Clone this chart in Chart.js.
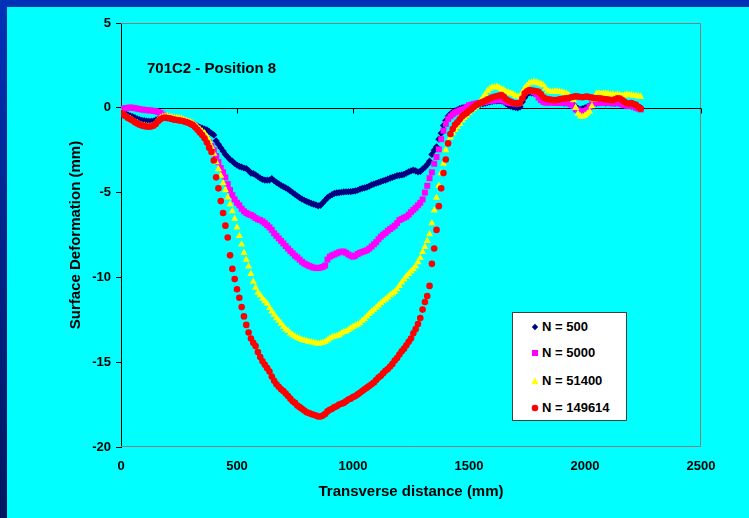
<!DOCTYPE html>
<html><head><meta charset="utf-8">
<script src="https://cdn.jsdelivr.net/npm/chart.js@4.4.1/dist/chart.umd.min.js"></script>
<style>
html,body{margin:0;padding:0;background:#00ffff;}
#wrap{position:relative;width:749px;height:518px;overflow:hidden;background:linear-gradient(to bottom,#0032b8 0%,#00248a 45%,#001860 100%);font-family:"Liberation Sans",Arial,sans-serif;color:#000;}
#inner{position:absolute;left:7px;top:7px;right:0;bottom:0;background:#00ffff;}
canvas{position:absolute;left:0;top:0;}
#title{position:absolute;left:147px;top:59px;font-weight:bold;font-size:15px;line-height:18px;white-space:nowrap;}
#legend{position:absolute;left:512px;top:312px;width:113px;height:107px;background:#fff;border:1px solid #404040;}
.item{position:absolute;left:0;width:113px;height:16px;font-weight:bold;font-size:13px;line-height:16px;white-space:nowrap;}
.item svg{position:absolute;left:18px;top:4px;}
.item span{position:absolute;left:29px;top:0;}
</style></head>
<body>
<div id="wrap">
<div id="inner"></div>
<canvas id="c" width="749" height="518"></canvas>
<div id="title">701C2 - Position 8</div>
<div id="legend"></div>
</div>
<script>
const seriesNames = ['N = 500', 'N = 5000', 'N = 51400', 'N = 149614'];
const xTicks = [0, 500, 1000, 1500, 2000, 2500];
const yTicks = [5, 0, -5, -10, -15, -20];

const distance = [
0,10,20,30,40,50,60,70,80,90,
100,110,120,130,140,150,160,170,180,190,
200,210,220,230,240,250,260,270,280,290,
300,310,320,330,340,350,360,370,380,390,
400,410,420,430,440,450,460,470,480,490,
500,510,520,530,540,550,560,570,580,590,
600,610,620,630,640,650,660,670,680,690,
700,710,720,730,740,750,760,770,780,790,
800,810,820,830,840,850,860,870,880,890,
900,910,920,930,940,950,960,970,980,990,
1000,1010,1020,1030,1040,1050,1060,1070,1080,1090,
1100,1110,1120,1130,1140,1150,1160,1170,1180,1190,
1200,1210,1220,1230,1240,1250,1260,1270,1280,1290,
1300,1310,1320,1330,1340,1350,1360,1370,1380,1390,
1400,1410,1420,1430,1440,1450,1460,1470,1480,1490,
1500,1510,1520,1530,1540,1550,1560,1570,1580,1590,
1600,1610,1620,1630,1640,1650,1660,1670,1680,1690,
1700,1710,1720,1730,1740,1750,1760,1770,1780,1790,
1800,1810,1820,1830,1840,1850,1860,1870,1880,1890,
1900,1910,1920,1930,1940,1950,1960,1970,1980,1990,
2000,2010,2020,2030,2040,2050,2060,2070,2080,2090,
2100,2110,2120,2130,2140,2150,2160,2170,2180,2190,
2200,2210,2220,2230,2240];

const n500 = [
-0.20,-0.28,-0.35,-0.42,-0.48,-0.52,-0.58,-0.65,-0.70,-0.74,
-0.76,-0.78,-0.80,-0.80,-0.78,-0.72,-0.65,-0.60,-0.58,-0.58,
-0.60,-0.62,-0.64,-0.66,-0.68,-0.70,-0.72,-0.76,-0.80,-0.85,
-0.90,-0.95,-1.02,-1.08,-1.15,-1.20,-1.25,-1.30,-1.40,-1.50,
-1.60,-1.95,-2.15,-2.35,-2.55,-2.75,-2.90,-3.05,-3.15,-3.28,
-3.38,-3.45,-3.50,-3.55,-3.58,-3.70,-3.85,-3.88,-3.95,-4.05,
-4.15,-4.22,-4.26,-4.27,-4.26,-4.18,-4.30,-4.40,-4.48,-4.58,
-4.65,-4.72,-4.80,-4.90,-5.00,-5.10,-5.20,-5.30,-5.38,-5.45,
-5.52,-5.58,-5.63,-5.68,-5.72,-5.78,-5.75,-5.60,-5.45,-5.30,
-5.20,-5.12,-5.05,-5.02,-5.00,-4.98,-4.96,-4.95,-4.95,-4.94,
-4.92,-4.90,-4.86,-4.80,-4.75,-4.72,-4.68,-4.62,-4.55,-4.50,
-4.45,-4.40,-4.35,-4.30,-4.26,-4.20,-4.15,-4.10,-4.05,-4.00,
-3.98,-3.96,-3.92,-3.85,-3.78,-3.72,-3.67,-3.72,-3.78,-3.75,
-3.62,-3.50,-3.35,-3.15,-2.75,-2.50,-2.30,-1.85,-1.50,-1.05,
-0.75,-0.50,-0.35,-0.25,-0.18,-0.12,-0.05,0.00,0.02,0.05,
0.08,0.12,0.15,0.18,0.20,0.22,0.25,0.28,0.32,0.35,
0.38,0.40,0.40,0.42,0.40,0.35,0.25,0.15,0.10,0.05,
0.02,0.00,0.05,0.35,0.60,0.80,0.90,0.88,0.86,0.85,
0.70,0.50,0.42,0.38,0.35,0.35,0.33,0.32,0.30,0.30,
0.30,0.28,0.30,0.28,0.25,0.20,0.05,-0.05,-0.10,-0.05,
0.00,0.05,0.12,0.20,0.25,0.28,0.30,0.30,0.30,0.28,
0.30,0.32,0.30,0.28,0.30,0.28,0.22,0.18,0.15,0.12,
0.10,0.08,0.05,0.02,0.00];

const n5000 = [
-0.10,-0.05,-0.02,0.00,0.02,0.00,-0.02,-0.05,-0.08,-0.10,
-0.12,-0.14,-0.15,-0.16,-0.18,-0.20,-0.25,-0.30,-0.40,-0.48,
-0.52,-0.55,-0.58,-0.60,-0.62,-0.65,-0.68,-0.72,-0.78,-0.85,
-0.90,-0.98,-1.08,-1.20,-1.35,-1.50,-1.65,-1.85,-2.05,-2.25,
-2.50,-2.85,-3.20,-3.55,-3.80,-4.10,-4.50,-4.85,-5.15,-5.40,
-5.60,-5.75,-5.95,-6.10,-6.20,-6.28,-6.32,-6.40,-6.50,-6.58,
-6.62,-6.70,-6.80,-6.92,-7.05,-7.20,-7.40,-7.55,-7.70,-7.85,
-8.00,-8.15,-8.30,-8.45,-8.58,-8.72,-8.82,-8.95,-9.08,-9.18,
-9.25,-9.32,-9.37,-9.42,-9.45,-9.45,-9.42,-9.38,-9.30,-8.95,
-8.78,-8.70,-8.65,-8.58,-8.52,-8.48,-8.48,-8.55,-8.65,-8.72,
-8.78,-8.72,-8.62,-8.55,-8.50,-8.45,-8.40,-8.30,-8.18,-8.05,
-7.92,-7.75,-7.60,-7.48,-7.38,-7.25,-7.15,-7.05,-6.95,-6.80,
-6.62,-6.55,-6.48,-6.42,-6.30,-6.15,-6.02,-5.90,-5.75,-5.60,
-5.40,-5.00,-4.60,-4.15,-3.80,-3.30,-2.90,-2.45,-1.85,-1.35,
-0.95,-0.65,-0.50,-0.38,-0.28,-0.22,-0.15,-0.10,-0.05,0.05,
0.15,0.18,0.22,0.25,0.28,0.30,0.32,0.35,0.38,0.40,
0.42,0.44,0.45,0.46,0.46,0.42,0.35,0.30,0.28,0.26,
0.25,0.25,0.30,0.70,0.95,1.00,1.02,0.98,0.92,0.80,
0.60,0.45,0.35,0.30,0.30,0.32,0.30,0.28,0.30,0.32,
0.30,0.28,0.30,0.25,0.20,0.10,-0.10,-0.15,-0.20,-0.20,
-0.18,-0.10,0.05,0.20,0.28,0.30,0.32,0.30,0.28,0.30,
0.30,0.28,0.25,0.28,0.30,0.25,0.20,0.15,0.12,0.10,
0.12,0.08,0.00,-0.05,-0.10];

const n51400 = [
-0.28,-0.38,-0.48,-0.58,-0.66,-0.74,-0.84,-0.90,-0.98,-1.03,
-1.06,-1.08,-1.10,-1.08,-1.02,-0.90,-0.72,-0.60,-0.52,-0.50,
-0.50,-0.52,-0.55,-0.58,-0.60,-0.62,-0.65,-0.70,-0.75,-0.80,
-0.85,-0.92,-1.02,-1.15,-1.28,-1.40,-1.50,-1.70,-1.95,-2.30,
-2.70,-3.20,-3.62,-4.00,-4.45,-4.85,-5.28,-5.70,-6.10,-6.55,
-7.05,-7.55,-8.05,-8.55,-8.95,-9.35,-9.80,-10.25,-10.60,-10.90,
-11.05,-11.25,-11.40,-11.55,-11.80,-12.00,-12.20,-12.40,-12.55,-12.72,
-12.90,-13.05,-13.15,-13.30,-13.40,-13.48,-13.55,-13.62,-13.68,-13.72,
-13.75,-13.80,-13.82,-13.85,-13.88,-13.90,-13.88,-13.85,-13.80,-13.70,
-13.60,-13.52,-13.48,-13.45,-13.40,-13.30,-13.22,-13.18,-13.10,-13.00,
-12.92,-12.85,-12.78,-12.70,-12.55,-12.45,-12.30,-12.15,-12.02,-11.90,
-11.78,-11.65,-11.52,-11.40,-11.30,-11.18,-11.05,-10.95,-10.85,-10.70,
-10.50,-10.30,-10.12,-9.95,-9.80,-9.65,-9.52,-9.35,-9.10,-8.85,
-8.50,-8.20,-7.85,-7.45,-6.80,-6.05,-5.30,-4.60,-3.85,-3.30,
-2.50,-2.05,-1.75,-1.50,-1.30,-1.12,-0.95,-0.75,-0.60,-0.45,
-0.28,-0.15,-0.05,0.05,0.20,0.40,0.60,0.80,1.00,1.12,
1.20,1.22,1.24,1.18,1.10,1.05,0.95,0.90,0.85,0.80,
0.72,0.68,0.65,0.90,1.15,1.30,1.45,1.50,1.54,1.50,
1.45,1.40,1.34,1.15,1.00,0.95,0.95,0.96,0.95,0.95,
0.92,0.88,0.85,0.75,0.60,0.45,0.00,-0.35,-0.50,-0.52,
-0.45,-0.35,-0.23,0.10,0.50,0.85,0.85,0.82,0.85,0.85,
0.82,0.78,0.80,0.75,0.78,0.75,0.72,0.75,0.78,0.75,
0.75,0.72,0.70,0.68,0.65];

const n149614 = [
-0.30,-0.40,-0.50,-0.60,-0.68,-0.75,-0.85,-0.92,-1.00,-1.05,
-1.08,-1.10,-1.12,-1.10,-1.06,-0.95,-0.80,-0.68,-0.60,-0.58,
-0.60,-0.62,-0.66,-0.70,-0.72,-0.74,-0.76,-0.80,-0.84,-0.88,
-0.95,-1.02,-1.15,-1.30,-1.45,-1.60,-1.80,-2.05,-2.35,-2.60,
-3.10,-4.10,-4.75,-5.50,-6.20,-6.95,-7.65,-8.70,-9.50,-10.10,
-10.70,-11.20,-11.75,-12.30,-12.80,-13.25,-13.60,-13.85,-14.05,-14.40,
-14.70,-14.95,-15.15,-15.35,-15.55,-15.85,-16.10,-16.30,-16.45,-16.60,
-16.70,-16.85,-17.00,-17.15,-17.30,-17.40,-17.55,-17.65,-17.75,-17.85,
-17.95,-18.00,-18.05,-18.10,-18.15,-18.20,-18.20,-18.15,-18.05,-17.90,
-17.80,-17.75,-17.65,-17.60,-17.50,-17.45,-17.40,-17.30,-17.20,-17.15,
-17.05,-17.00,-16.90,-16.80,-16.70,-16.60,-16.50,-16.40,-16.30,-16.20,
-16.05,-15.90,-15.80,-15.65,-15.50,-15.40,-15.25,-15.10,-14.90,-14.75,
-14.55,-14.35,-14.20,-14.00,-13.80,-13.60,-13.30,-13.05,-12.75,-12.40,
-11.90,-11.45,-11.10,-10.50,-9.20,-8.30,-7.20,-5.80,-4.75,-3.85,
-3.05,-2.10,-1.55,-1.25,-1.00,-0.85,-0.68,-0.52,-0.40,-0.30,
-0.18,-0.08,0.05,0.15,0.22,0.30,0.36,0.42,0.48,0.55,
0.60,0.65,0.68,0.72,0.75,0.65,0.50,0.42,0.35,0.30,
0.27,0.25,0.28,0.55,0.85,0.98,1.05,1.02,1.00,0.98,
0.95,0.80,0.62,0.55,0.50,0.48,0.46,0.45,0.46,0.50,
0.52,0.55,0.56,0.58,0.62,0.65,0.68,0.66,0.64,0.62,
0.65,0.66,0.62,0.60,0.58,0.56,0.56,0.55,0.52,0.50,
0.48,0.46,0.45,0.50,0.56,0.55,0.45,0.35,0.27,0.25,
0.28,0.22,0.17,0.05,-0.05];

const seriesValues = [n500, n5000, n51400, n149614];
const seriesColors = ['#000080', '#ff00ff', '#ffff00', '#ff0000'];
const seriesStyles = ['rectRot', 'rect', 'triangle', 'circle'];
const seriesRadius = [3.6, 4.2, 4.2, 3.3];

Chart.defaults.font.family = '"Liberation Sans", Arial, Helvetica, sans-serif';
Chart.defaults.color = '#000';

const datasets = seriesValues.map((vals, k) => ({
  label: seriesNames[k],
  data: vals.map((v, i) => ({x: distance[i], y: v})),
  pointStyle: seriesStyles[k],
  pointRadius: seriesRadius[k],
  pointHoverRadius: seriesRadius[k],
  backgroundColor: seriesColors[k],
  borderColor: seriesColors[k],
  borderWidth: 0,
  showLine: false,
  order: 3 - k
}));

const framePlugin = {
  id: 'frame',
  beforeDatasetsDraw(chart) {
    const {ctx, chartArea: a, scales: {x, y}} = chart;
    ctx.save();
    ctx.lineWidth = 1;
    ctx.strokeStyle = '#808080';
    ctx.beginPath();
    ctx.moveTo(a.left, a.top + 0.5);
    ctx.lineTo(a.right - 0.5, a.top + 0.5);
    ctx.lineTo(a.right - 0.5, a.bottom - 0.5);
    ctx.lineTo(a.left, a.bottom - 0.5);
    ctx.stroke();
    const y0 = Math.round(y.getPixelForValue(0)) + 0.5;
    ctx.strokeStyle = '#000';
    ctx.beginPath();
    ctx.moveTo(a.left, y0);
    ctx.lineTo(a.right, y0);
    xTicks.forEach(t => {
      const px = Math.round(x.getPixelForValue(t)) + 0.5;
      ctx.moveTo(px, y0);
      ctx.lineTo(px, y0 + 5);
    });
    ctx.stroke();
    ctx.restore();
  }
};

new Chart(document.getElementById('c'), {
  type: 'scatter',
  data: {datasets},
  options: {
    responsive: false,
    animation: false,
    events: [],
    layout: {padding: {left: 0, right: 48, top: 23, bottom: 0}},
    plugins: {legend: {display: false}, tooltip: {enabled: false}, title: {display: false}},
    scales: {
      x: {
        type: 'linear', min: 0, max: 2500,
        afterBuildTicks: s => { s.ticks = xTicks.map(v => ({value: v})); },
        afterFit: s => { s.height = 71; },
        grid: {display: false, drawTicks: false},
        border: {display: false},
        ticks: {font: {size: 13, weight: 'bold'}, padding: 12, maxRotation: 0, autoSkip: false,
                callback: v => String(v)},
        title: {display: true, text: 'Transverse distance (mm)', font: {size: 15, weight: 'bold'}, padding: {top: 0, bottom: 17}}
      },
      y: {
        type: 'linear', min: -20, max: 5,
        afterBuildTicks: s => { s.ticks = yTicks.map(v => ({value: v})); },
        afterFit: s => { s.width = 121; },
        grid: {display: true, drawOnChartArea: false, drawTicks: true, tickLength: 5, color: '#000'},
        border: {display: true, color: '#000', width: 1},
        ticks: {font: {size: 13, weight: 'bold'}, padding: 5, autoSkip: false, callback: v => String(v)},
        title: {display: true, text: 'Surface Deformation (mm)', font: {size: 15, weight: 'bold'}, padding: {top: 67, bottom: 0}}
      }
    }
  },
  plugins: [framePlugin]
});

// legend (HTML, real text)
const legendTops = [6, 32, 60, 87];
const markerSvg = [
  '<svg width="8" height="8"><polygon points="4,0.8 7.2,4 4,7.2 0.8,4" fill="#000080"/></svg>',
  '<svg width="8" height="8"><rect x="1" y="1" width="6" height="6" fill="#ff00ff"/></svg>',
  '<svg width="8" height="8"><polygon points="4,0.3 7.6,7.3 0.4,7.3" fill="#ffff00"/></svg>',
  '<svg width="8" height="8"><circle cx="4" cy="4" r="3.3" fill="#ff0000"/></svg>'
];
const leg = document.getElementById('legend');
seriesNames.forEach((name, k) => {
  const d = document.createElement('div');
  d.className = 'item';
  d.style.top = legendTops[k] + 'px';
  d.innerHTML = markerSvg[k] + '<span>' + name + '</span>';
  leg.appendChild(d);
});
</script>
</body></html>
